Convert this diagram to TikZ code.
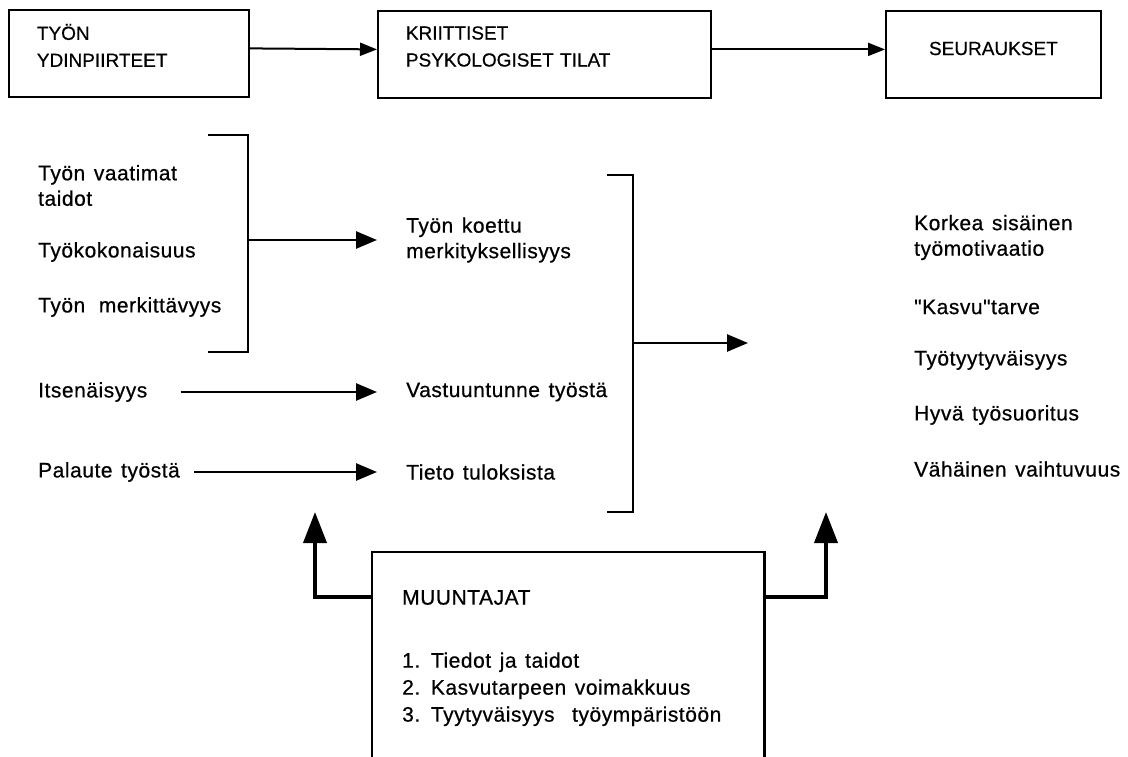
\documentclass[tikz,border=0pt]{standalone}
\usepackage{fontspec}
\setmainfont{Liberation Sans}[FakeBold=0.5]
\newfontfamily\harva{Liberation Sans}[LetterSpace=2.5, WordSpace=1.35, FakeBold=0.6]
\usepackage{tikz}
\usetikzlibrary{arrows.meta,calc}

\tikzset{
  otsikko/.style={draw, line width=1.8pt, inner sep=0pt, anchor=north west, align=left,
    font=\fontsize{19}{27}\selectfont},
  teksti/.style={anchor=west, inner sep=2pt, align=left, font=\harva\fontsize{21}{25.5}\selectfont},
  nuoli/.style={line width=2.6pt, -{Triangle[length=21pt,width=17pt]}},
  ylanuoli/.style={line width=2pt, -{Triangle[length=17pt,width=13pt]}},
  paksu/.style={line width=3.8pt, -{Triangle[length=31pt,width=23pt]}},
  sulku/.style={line width=2.6pt}
}

\begin{document}
\begin{tikzpicture}[x=1pt,y=-1pt]
\useasboundingbox (0,0) rectangle (1128,757);
% Otsikkolaatikot
\node[otsikko, minimum width=240pt, minimum height=87pt, text width=184pt, inner xsep=28pt] (ydin) at (8,9) {TYÖN\\YDINPIIRTEET\\[-11pt]\mbox{}};
\node[otsikko, minimum width=333pt, minimum height=87pt, text width=277pt, inner xsep=28pt] (tilat) at (377,10) {KRIITTISET\\PSYKOLOGISET TILAT\\[-11pt]\mbox{}};
\node[otsikko, minimum width=215pt, minimum height=87pt, text width=215pt, align=center] (seur) at (885,10) {\raisebox{12pt}{SEURAUKSET}};
\draw[ylanuoli] ([yshift=5pt]ydin.east) -- ([yshift=5pt]tilat.west);
\draw[ylanuoli] ([yshift=5pt]tilat.east) -- ([yshift=5pt]seur.west);

% Työn ydinpiirteet
\node[teksti] (taidot) at (36,185.5) {Työn vaatimat\\taidot};
\node[teksti] (kokon) at (36,252) {Työkokonaisuus};
\node[teksti] (merkit) at (36,307) {Työn\hspace{5pt} merkittävyys};
\node[teksti] (itsen) at (36,392) {Itsenäisyys};
\node[teksti] (palaute) at (36,472) {Palaute työstä};

% Kriittiset tilat
\node[teksti] (koettu) at (404,240) {Työn koettu\\merkityksellisyys};
\node[teksti] (vastuu) at (404,392) {Vastuuntunne työstä};
\node[teksti] (tieto) at (404,472) {Tieto tuloksista};

% Seuraukset
\node[teksti] (korkea) at (912,237.5) {Korkea sisäinen\\työmotivaatio};
\node[teksti] (kasvu) at (912,307) {\symbol{34}Kasvu\symbol{34}tarve};
\node[teksti] (tyyty) at (912,360) {Työtyytyväisyys};
\node[teksti] (hyva) at (912,415) {Hyvä työsuoritus};
\node[teksti] (vaihtu) at (912,469) {Vähäinen vaihtuvuus};

% Sulkeet ja nuolet
\draw[sulku] (208,135) -- (248,135) -- (248,352) -- (208,352);
\coordinate (s1) at (248,240);
\draw[nuoli, shorten >=27pt] (s1) -- (koettu.west);
\draw[nuoli, shorten <=31pt, shorten >=27pt] (itsen.east) -- (vastuu.west);
\draw[nuoli, shorten <=12pt, shorten >=27pt] (palaute.east) -- (tieto.west);
\draw[sulku] (607,175) -- (633,175) -- (633,512) -- (607,512);
\coordinate (s2) at (633,343);
\coordinate (s2k) at (748,343);
\draw[nuoli] (s2) -- (s2k);

% Muuntajat
\node[minimum width=392pt, minimum height=205pt, inner sep=0pt, anchor=north west] (muunt) at (372,552) {};
\draw[line width=2.2pt] (muunt.south west) -- (muunt.north west) -- (muunt.north east) -- (muunt.south east);
\node[teksti, anchor=north west, font=\harva\fontsize{21}{27}\selectfont] (mlista) at (400,588) {MUUNTAJAT\\[36pt]1. Tiedot ja taidot\\2. Kasvutarpeen voimakkuus\\3. Tyytyväisyys\hspace{9pt} työympäristöön};
\coordinate (vasen) at (315,512);
\coordinate (oikea) at (826,512);
\draw[paksu] ([yshift=-45pt]muunt.north west) -| (vasen);
\draw[paksu] ([yshift=-45pt]muunt.north east) -| (oikea);
\end{tikzpicture}
\end{document}
